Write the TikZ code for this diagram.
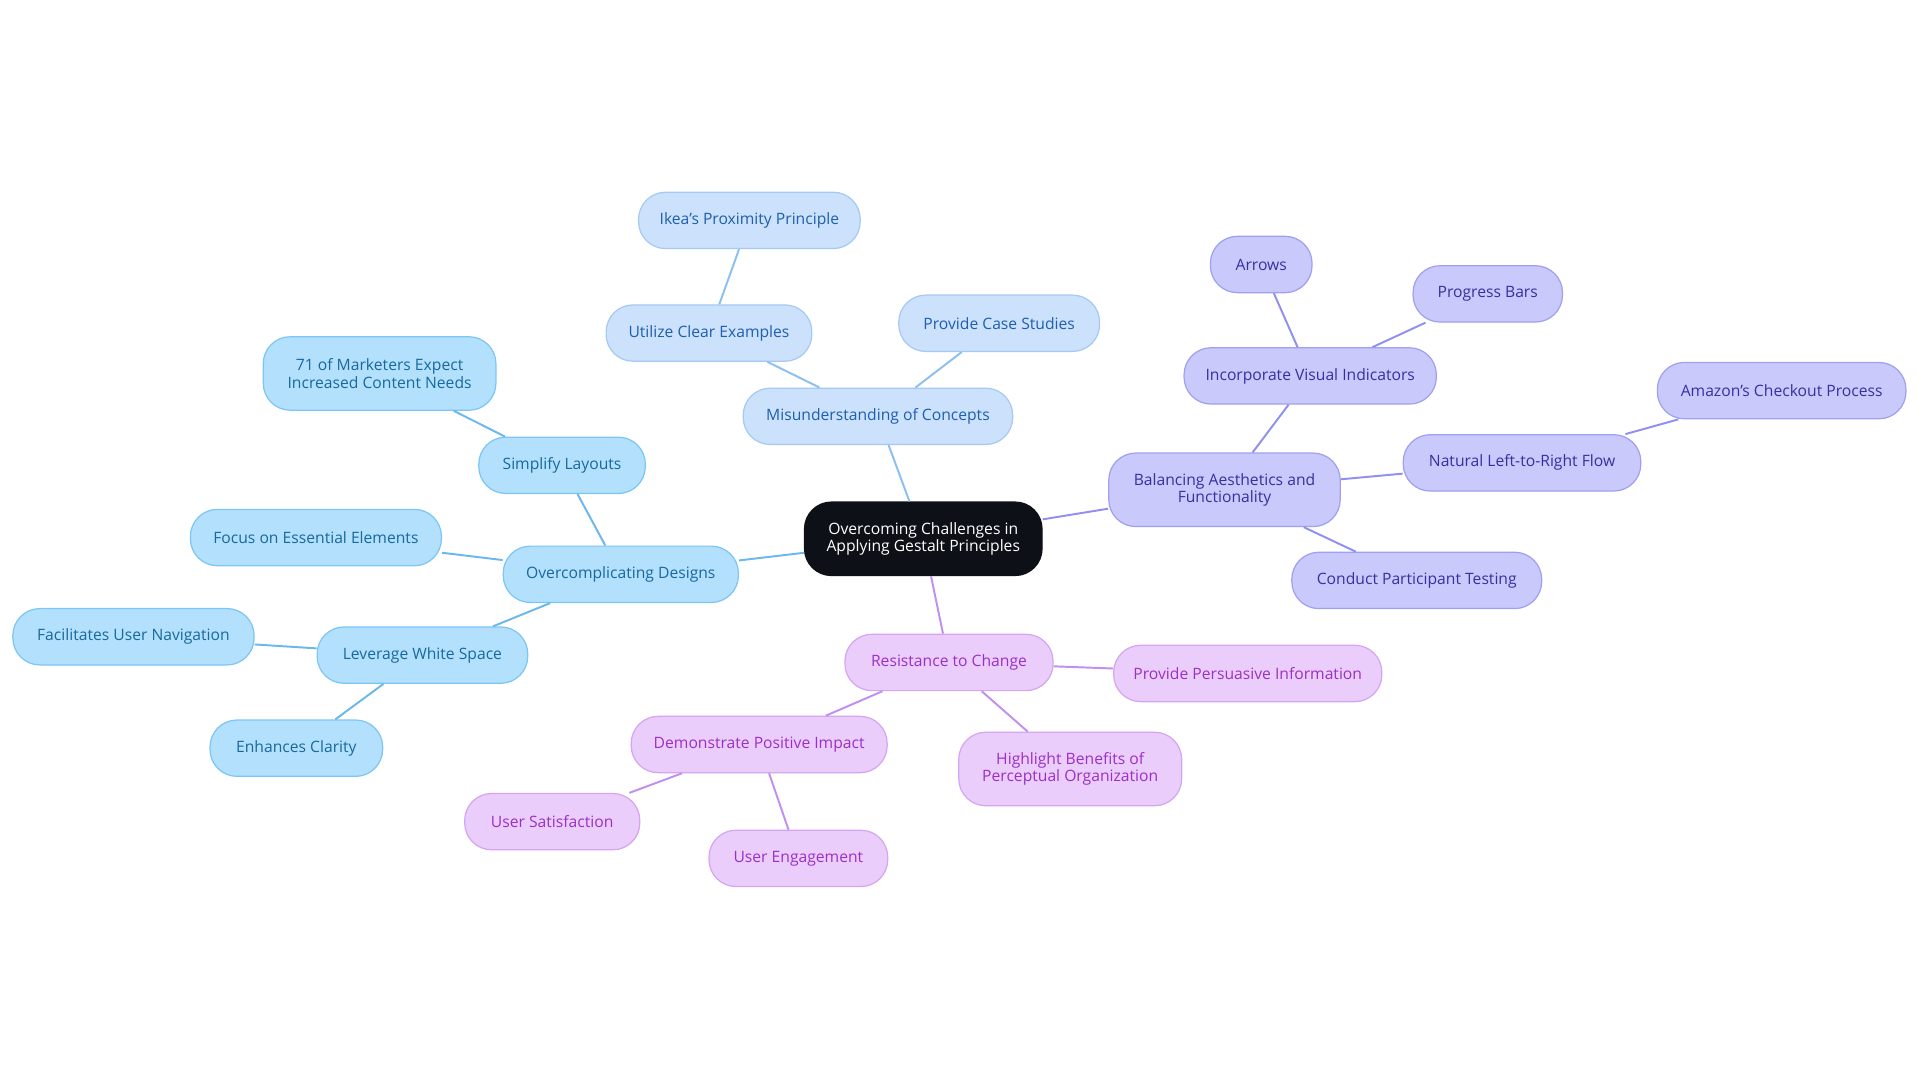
\documentclass[tikz,border=0pt]{standalone}
\usepackage{fontspec}
\setmainfont{Open Sans}
\definecolor{cfill}{HTML}{0D1117}
\definecolor{bfill}{HTML}{CCE1FB}\definecolor{bline}{HTML}{A6C9F4}\definecolor{btext}{HTML}{1D5FB0}\definecolor{bedge}{HTML}{8CC0F0}
\definecolor{sfill}{HTML}{B3E0FD}\definecolor{sline}{HTML}{7CC6F5}\definecolor{stext}{HTML}{17699E}\definecolor{sedge}{HTML}{6CB8EC}
\definecolor{vfill}{HTML}{C9C9FB}\definecolor{vline}{HTML}{A0A0F0}\definecolor{vtext}{HTML}{3A2FA0}\definecolor{vedge}{HTML}{9090F0}
\definecolor{pfill}{HTML}{EBCDFB}\definecolor{pline}{HTML}{D5A5F2}\definecolor{ptext}{HTML}{9B30C8}\definecolor{pedge}{HTML}{C090F0}
\tikzset{
 base/.style={rounded corners=11pt,align=center,inner sep=2pt,line width=0.5pt,font=\fontsize{6.4}{7.2}\selectfont,minimum height=23pt},
 tall/.style={minimum height=30pt},
 ctr/.style={base,fill=cfill,draw=cfill,text=white,tall},
 bn/.style={base,fill=bfill,draw=bline,text=btext},
 sn/.style={base,fill=sfill,draw=sline,text=stext},
 vn/.style={base,fill=vfill,draw=vline,text=vtext},
 pn/.style={base,fill=pfill,draw=pline,text=ptext},
 be/.style={draw=bedge,line width=0.8pt},
 se/.style={draw=sedge,line width=0.8pt},
 ve/.style={draw=vedge,line width=0.8pt},
 pe/.style={draw=pedge,line width=0.8pt},
}
\begin{document}
\begin{tikzpicture}[x=0.5pt,y=-0.5pt]
\useasboundingbox (0,0) rectangle (1568,884.5);
\node[ctr,minimum width=97pt] (c) at (754,440) {Overcoming Challenges in\\Applying Gestalt Principles};
% blue
\node[bn,minimum width=110pt] (mis) at (717,340) {Misunderstanding of Concepts};
\node[bn,minimum width=84pt] (uce) at (579,272) {Utilize Clear Examples};
\node[bn,minimum width=90.5pt] (ikea) at (612,180) {Ikea's Proximity Principle};
\node[bn,minimum width=82pt] (pcs) at (816,264) {Provide Case Studies};
% sky
\node[sn,minimum width=96pt] (ovd) at (507,469) {Overcomplicating Designs};
\node[sn,minimum width=68pt] (sl) at (459,380) {Simplify Layouts};
\node[sn,tall,minimum width=95pt] (m71) at (310,305) {71 of Marketers Expect\\Increased Content Needs};
\node[sn,minimum width=102.5pt] (fee) at (258,439) {Focus on Essential Elements};
\node[sn,minimum width=86pt] (lws) at (345,535) {Leverage White Space};
\node[sn,minimum width=98.5pt] (fun) at (109,520) {Facilitates User Navigation};
\node[sn,minimum width=70.5pt] (enc) at (242,611) {Enhances Clarity};
% violet
\node[vn,tall,minimum width=94.5pt] (bal) at (1000,400) {Balancing Aesthetics and\\Functionality};
\node[vn,minimum width=103pt] (ivi) at (1070,307) {Incorporate Visual Indicators};
\node[vn,minimum width=41.5pt] (arr) at (1030,216) {Arrows};
\node[vn,minimum width=61pt] (pb) at (1215,240) {Progress Bars};
\node[vn,minimum width=97pt] (nlr) at (1243,378) {Natural Left-to-Right Flow};
\node[vn,minimum width=101.5pt] (amz) at (1455,319) {Amazon's Checkout Process};
\node[vn,minimum width=102pt] (cpt) at (1157,474) {Conduct Participant Testing};
% purple
\node[pn,minimum width=85pt] (rtc) at (775,541) {Resistance to Change};
\node[pn,minimum width=109.5pt] (ppi) at (1019,550) {Provide Persuasive Information};
\node[pn,tall,minimum width=91pt] (hb) at (874,628) {Highlight Benefits of\\Perceptual Organization};
\node[pn,minimum width=104.5pt] (dpi) at (620,608) {Demonstrate Positive Impact};
\node[pn,minimum width=71.5pt] (us) at (451,671) {User Satisfaction};
\node[pn,minimum width=73pt] (ue) at (652,701) {User Engagement};
% edges
\begin{scope}[on background layer/.try]
\end{scope}
\path[be] (c) -- (mis);
\path[be] (mis) -- (uce);
\path[be] (uce) -- (ikea);
\path[be] (mis) -- (pcs);
\path[se] (c) -- (ovd);
\path[se] (ovd) -- (sl);
\path[se] (sl) -- (m71);
\path[se] (ovd) -- (fee);
\path[se] (ovd) -- (lws);
\path[se] (lws) -- (fun);
\path[se] (lws) -- (enc);
\path[ve] (c) -- (bal);
\path[ve] (bal) -- (ivi);
\path[ve] (ivi) -- (arr);
\path[ve] (ivi) -- (pb);
\path[ve] (bal) -- (nlr);
\path[ve] (nlr) -- (amz);
\path[ve] (bal) -- (cpt);
\path[pe] (c) -- (rtc);
\path[pe] (rtc) -- (ppi);
\path[pe] (rtc) -- (hb);
\path[pe] (rtc) -- (dpi);
\path[pe] (dpi) -- (us);
\path[pe] (dpi) -- (ue);
\end{tikzpicture}
\end{document}
